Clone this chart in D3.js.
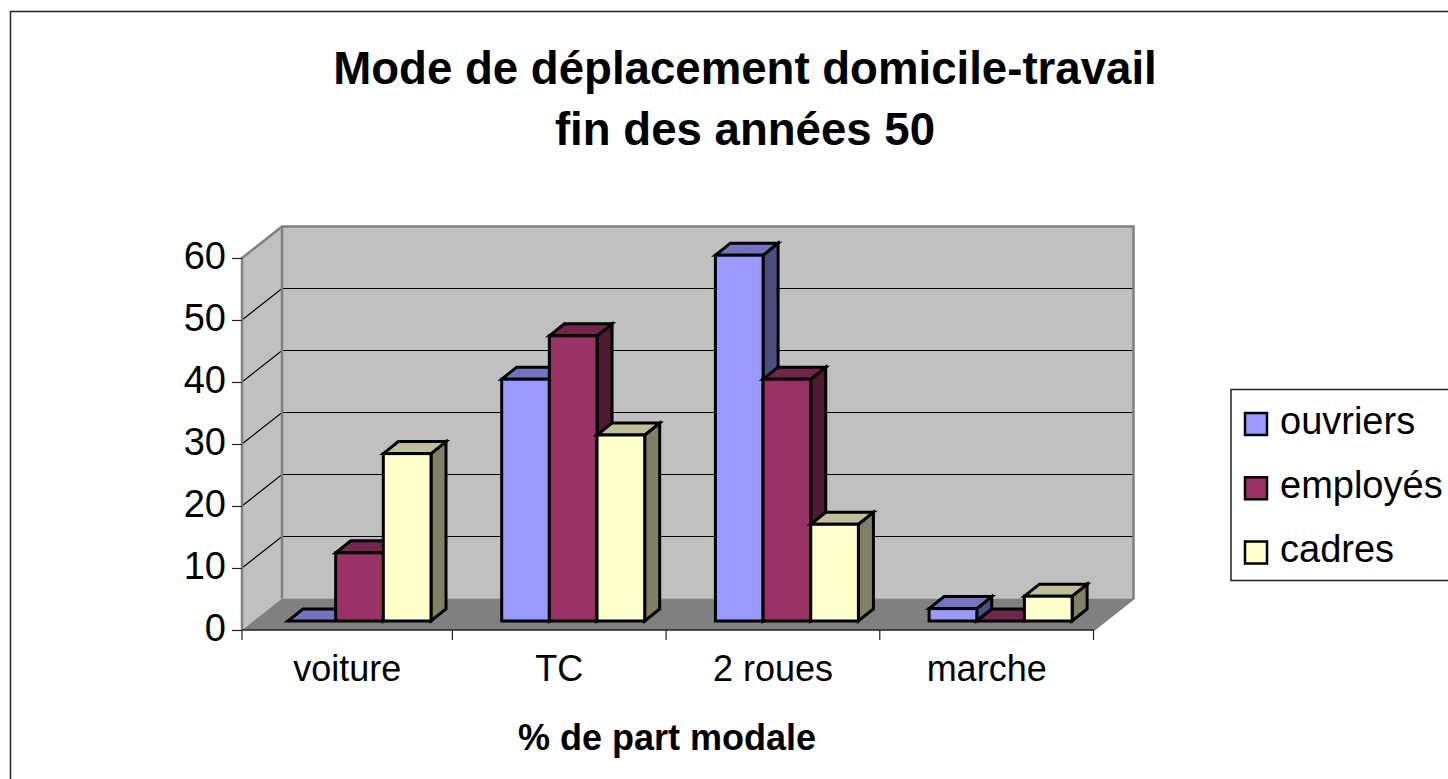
<!DOCTYPE html>
<html>
<head>
<meta charset="utf-8">
<title>Mode de déplacement domicile-travail</title>
<script src="https://cdnjs.cloudflare.com/ajax/libs/d3/7.8.5/d3.min.js"></script>
<style>
  body { margin: 0; background: #fff; overflow: hidden; }
  text { font-family: "Liberation Sans", Arial, sans-serif; fill: #000; }
</style>
</head>
<body>
<script>

// chart data
var categories = ["voiture", "TC", "2 roues", "marche"];
var series_names = ["ouvriers", "employés", "cadres"];
var ouvriers = [0, 39, 59, 2];
var employes = [11, 46, 39, 0];
var cadres = [27, 30, 15.6, 4];
var y_ticks = [0, 10, 20, 30, 40, 50, 60];
var title_lines = ["Mode de déplacement domicile-travail", "fin des années 50"];
var x_title = "% de part modale";

var series_values = [ouvriers, employes, cadres];

// front, top and side colour per series
var front_colours = ["#9999ff", "#993366", "#ffffcc"];
var top_colours = ["#7373bf", "#73264d", "#bfbf99"];
var side_colours = ["#4d4d80", "#4d1a33", "#808066"];

var svg = d3.select("body")
            .append("svg")
            .attr("width", 1448)
            .attr("height", 779);

// outer frame runs off the picture on the right and at the bottom
svg.append("rect")
   .attr("x", 10.5)
   .attr("y", 11.5)
   .attr("width", 1500)
   .attr("height", 900)
   .attr("fill", "#fff")
   .attr("stroke", "#222")
   .attr("stroke-width", 1.5);

// scales for the front of the plot, the first band starts a bit left of the wall
var x_scale = d3.scaleBand()
    .domain(categories)
    .range([238.7, 1093.5]);

var x_series = d3.scaleBand()
    .domain(d3.range(series_names.length))
    .range([49.3, 192.3]);

var y_scale = d3.scaleLinear()
    .domain([0, 60])
    .range([630, 258]);

// depth of the walls and of the bars
var wall_dx = 40;
var wall_dy = 31.5;
var bar_dx = 15;
var bar_dy = 12;
var bar_floor = 9;

function points(list) {
    return list.map(function(p) { return p.join(","); }).join(" ");
}

var x_left = 242;
var x_right = x_scale.range()[1];
var y_bottom = y_scale(0);
var y_top = y_scale(60);

// back wall and left wall
svg.append("polygon")
   .attr("points", points([[x_left + wall_dx, y_top - wall_dy], [x_right + wall_dx, y_top - wall_dy],
                           [x_right + wall_dx, y_bottom - wall_dy], [x_left + wall_dx, y_bottom - wall_dy]]))
   .attr("fill", "#c0c0c0");

svg.append("polygon")
   .attr("points", points([[x_left, y_top], [x_left + wall_dx, y_top - wall_dy],
                           [x_left + wall_dx, y_bottom - wall_dy], [x_left, y_bottom]]))
   .attr("fill", "#c0c0c0");

// floor
svg.append("polygon")
   .attr("points", points([[x_left, y_bottom], [x_left + wall_dx, y_bottom - wall_dy],
                           [x_right + wall_dx, y_bottom - wall_dy], [x_right, y_bottom]]))
   .attr("fill", "#808080");

// gridlines on both walls
var grid = y_ticks.filter(function(d) { return d > 0 && d < 60; });

svg.selectAll(".grid")
   .data(grid)
   .enter()
   .append("polyline")
   .attr("class", "grid")
   .attr("points", function(d) {
     return points([[x_left, y_scale(d)], [x_left + wall_dx, y_scale(d) - wall_dy],
                    [x_right + wall_dx, y_scale(d) - wall_dy]]);
   })
   .attr("fill", "none")
   .attr("stroke", "#000")
   .attr("stroke-width", 1.2);

// grey edges of the walls
svg.append("polyline")
   .attr("points", points([[x_left, y_bottom], [x_left, y_top], [x_left + wall_dx, y_top - wall_dy],
                           [x_right + wall_dx, y_top - wall_dy], [x_right + wall_dx, y_bottom - wall_dy],
                           [x_right, y_bottom]]))
   .attr("fill", "none")
   .attr("stroke", "#808080")
   .attr("stroke-width", 2.5);

svg.append("line")
   .attr("x1", x_left + wall_dx)
   .attr("x2", x_left + wall_dx)
   .attr("y1", y_top - wall_dy)
   .attr("y2", y_bottom - wall_dy)
   .attr("stroke", "#808080")
   .attr("stroke-width", 2.5);

// draw the bars, one series after the other so the later ones cover the earlier
series_names.forEach(function(name, s) {

    var bars = svg.append("g")
        .selectAll("g")
        .data(series_values[s])
        .enter()
        .append("g")
        .attr("stroke", "#000")
        .attr("stroke-width", 3)
        .attr("stroke-linejoin", "miter");

    function left(d, i) { return x_scale(categories[i]) + x_series(s); }
    function right(d, i) { return left(d, i) + x_series.bandwidth(); }
    function top_y(d) { return y_scale(d) - bar_floor; }
    var base_y = y_scale(0) - bar_floor;

    // side face
    bars.append("polygon")
        .attr("fill", side_colours[s])
        .attr("points", function(d, i) {
          return points([[right(d, i), top_y(d)], [right(d, i) + bar_dx, top_y(d) - bar_dy],
                         [right(d, i) + bar_dx, base_y - bar_dy], [right(d, i), base_y]]);
        });

    // top face
    bars.append("polygon")
        .attr("fill", top_colours[s])
        .attr("points", function(d, i) {
          return points([[left(d, i), top_y(d)], [left(d, i) + bar_dx, top_y(d) - bar_dy],
                         [right(d, i) + bar_dx, top_y(d) - bar_dy], [right(d, i), top_y(d)]]);
        });

    // front face
    bars.append("rect")
        .attr("fill", front_colours[s])
        .attr("x", left)
        .attr("y", top_y)
        .attr("width", x_series.bandwidth())
        .attr("height", function(d) { return base_y - top_y(d); });
});

// y axis
var y_axis = d3.axisLeft(y_scale)
    .tickValues(y_ticks)
    .tickSize(10)
    .tickPadding(6);

var y_group = svg.append("g")
    .attr("transform", "translate(" + x_left + ",0)")
    .call(y_axis);

y_group.select(".domain").remove();
y_group.selectAll("line").attr("stroke", "#222").attr("stroke-width", 1.2);
y_group.selectAll("text")
   .attr("font-size", "38px")
   .attr("font-family", null)
   .attr("dy", "0.28em");

// x axis, the labels sit in the middle of each band
var x_axis = d3.axisBottom(x_scale)
    .tickSize(0)
    .tickPadding(25);

var x_group = svg.append("g")
    .attr("transform", "translate(0," + y_bottom + ")")
    .call(x_axis);

x_group.select(".domain")
   .attr("d", "M" + x_left + ",0H" + x_right)
   .attr("stroke", "#222")
   .attr("stroke-width", 1.5);
x_group.selectAll("text").attr("font-size", "36px").attr("font-family", null);

// first label is centred on the visible part of its band
x_group.selectAll(".tick")
   .filter(function(d) { return d == categories[0]; })
   .attr("transform", "translate(" + (x_left + x_scale(categories[1])) / 2 + ",0)");

// x ticks go between the bands, the first one on the wall corner
x_group.selectAll(".edge")
   .data(categories.concat(["end"]))
   .enter()
   .append("line")
   .attr("class", "edge")
   .attr("x1", function(d, i) { return i == 0 ? x_left : x_scale.range()[0] + i * x_scale.step(); })
   .attr("x2", function(d, i) { return i == 0 ? x_left : x_scale.range()[0] + i * x_scale.step(); })
   .attr("y1", 0)
   .attr("y2", 10)
   .attr("stroke", "#222")
   .attr("stroke-width", 1.2);

// title
svg.selectAll(".title")
   .data(title_lines)
   .enter()
   .append("text")
   .attr("class", "title")
   .attr("x", 745)
   .attr("y", function(d, i) { return 84 + i * 61; })
   .attr("text-anchor", "middle")
   .attr("font-size", "45.6px")
   .attr("font-weight", "bold")
   .text(function(d) { return d; });

// x axis title
svg.append("text")
   .attr("x", 667)
   .attr("y", 750)
   .attr("text-anchor", "middle")
   .attr("font-size", "36px")
   .attr("font-weight", "bold")
   .text(x_title);

// legend
svg.append("rect")
   .attr("x", 1231)
   .attr("y", 389.5)
   .attr("width", 300)
   .attr("height", 191)
   .attr("fill", "#fff")
   .attr("stroke", "#222")
   .attr("stroke-width", 1.5);

var legend_y = d3.scalePoint()
    .domain(series_names)
    .range([424, 552.5]);

var legend = svg.selectAll(".legend")
   .data(series_names)
   .enter()
   .append("g")
   .attr("class", "legend")
   .attr("transform", function(d) { return "translate(1245," + legend_y(d) + ")"; });

legend.append("rect")
   .attr("x", 0)
   .attr("y", -11)
   .attr("width", 22)
   .attr("height", 22)
   .attr("fill", function(d, i) { return front_colours[i]; })
   .attr("stroke", "#000")
   .attr("stroke-width", 2.5);

legend.append("text")
   .attr("x", 35)
   .attr("y", 9.5)
   .attr("font-size", "38px")
   .text(function(d) { return d; });

</script>
</body>
</html>
